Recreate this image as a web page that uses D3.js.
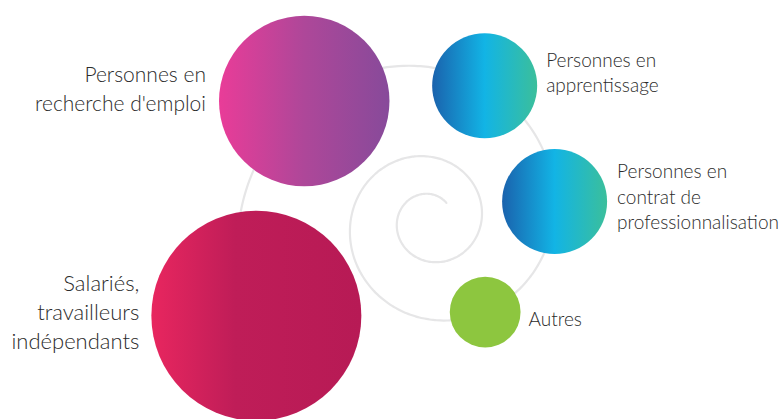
<!DOCTYPE html>
<html><head><meta charset="utf-8">
<script src="https://cdn.jsdelivr.net/npm/d3@7"></script>
<style>html,body{margin:0;padding:0;background:#fff;} svg{display:block}</style>
</head><body>
<svg id="chart" width="780" height="419"></svg>
<script>
// ---- data ----
const categories = [
  "Salariés, travailleurs indépendants",
  "Personnes en recherche d'emploi",
  "Personnes en apprentissage",
  "Personnes en contrat de professionnalisation",
  "Autres"
];
const labelLines = [
  ["Salariés,", "travailleurs", "indépendants"],
  ["Personnes en", "recherche d'emploi"],
  ["Personnes en", "apprentissage"],
  ["Personnes en", "contrat de", "professionnalisation"],
  ["Autres"]
];
const values = [44, 29, 11, 11, 5]; // estimated shares (%)
const colorStops = [
  [["0%", "#e8265f"], ["40%", "#bf1d58"], ["100%", "#b71a55"]],
  [["0%", "#e93c98"], ["50%", "#ae4799"], ["100%", "#874a9a"]],
  [["0%", "#1a62ad"], ["50%", "#12b4e5"], ["100%", "#3bbf9b"]],
  [["0%", "#1a62ad"], ["50%", "#12b4e5"], ["100%", "#3bbf9b"]],
  [["0%", "#8dc63f"], ["100%", "#8dc63f"]]
];

// ---- layout ----
const spiral = { cx: 430.2, cy: 220.6, r0: 26.6, k: 0.219, start: 47.7, end: 935 };
const placeAngle = [928.7, 856.5, 788, 728.7, 661];   // degrees along the spiral
const placePull  = [0.968, 1.011, 1, 1, 1];
const labelSide  = ["left", "left", "right", "right", "right"];
const labelGap   = [12, 13, 9, 10, 8];
const labelBase  = [-25, -19, -18.5, -23.5, 13.5];
const labelLH    = [29, 28.5, 25, 25.5, 0];
const labelSize  = [22, 21, 19, 19, 19];

const svg = d3.select("#chart");
const defs = svg.append("defs");

function spiralR(deg) { return spiral.r0 * Math.exp((deg - 90) / 90 * spiral.k); }
function spiralPt(deg, pull = 1) {
  const r = spiralR(deg) * pull;
  const a = deg * Math.PI / 180;
  return [spiral.cx + r * Math.cos(a), spiral.cy - r * Math.sin(a)];
}

// spiral background
const spiralPts = d3.range(spiral.start, spiral.end, 2).map(d => spiralPt(d));
svg.append("path")
  .attr("d", d3.line().curve(d3.curveCatmullRom)(spiralPts))
  .attr("fill", "none")
  .attr("stroke", "#e6e6e7")
  .attr("stroke-width", 2.2)
  .attr("stroke-linecap", "round");

const rScale = d3.scaleSqrt().domain([0, d3.max(values)]).range([0, 105]);

categories.forEach((c, i) => {
  const g = defs.append("linearGradient").attr("id", "grad" + i)
    .attr("x1", "0%").attr("x2", "100%").attr("y1", "0%").attr("y2", "0%");
  colorStops[i].forEach(s => g.append("stop").attr("offset", s[0]).attr("stop-color", s[1]));
});

const nodes = categories.map((c, i) => {
  const [x, y] = spiralPt(placeAngle[i], placePull[i]);
  return { i, c, x, y, r: rScale(values[i]) };
});

svg.append("g").selectAll("circle").data(nodes).join("circle")
  .attr("cx", d => d.x).attr("cy", d => d.y).attr("r", d => d.r)
  .attr("fill", d => `url(#grad${d.i})`);

const labels = svg.append("g")
  .attr("font-family", "Lato, 'Open Sans', sans-serif")
  .attr("font-weight", 300)
  .attr("fill", "#2b2b2b");

nodes.forEach(d => {
  const i = d.i;
  const left = labelSide[i] === "left";
  const x = left ? d.x - d.r - labelGap[i] : d.x + d.r + labelGap[i];
  const t = labels.append("text")
    .attr("text-anchor", left ? "end" : "start")
    .attr("font-size", labelSize[i]);
  labelLines[i].forEach((line, k) => {
    t.append("tspan").attr("x", x).attr("y", d.y + labelBase[i] + k * labelLH[i]).text(line);
  });
});
</script>
</body></html>
